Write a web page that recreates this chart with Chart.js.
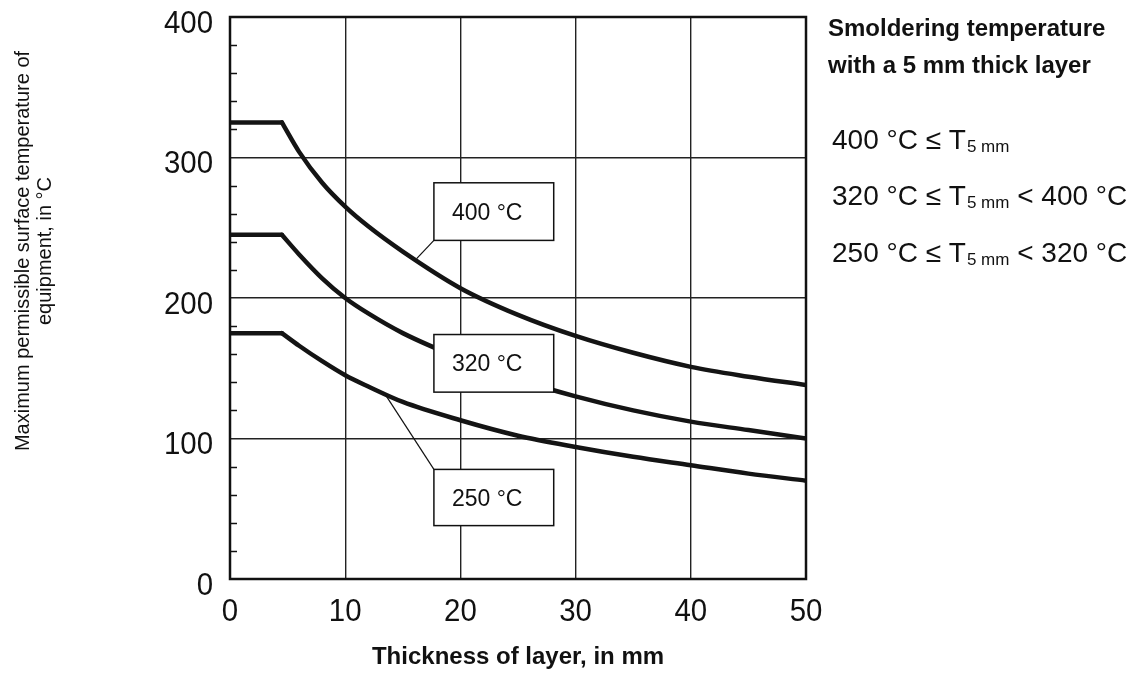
<!DOCTYPE html>
<html>
<head>
<meta charset="utf-8">
<script src="https://cdn.jsdelivr.net/npm/chart.js@4/dist/chart.umd.min.js"></script>
<style>
  body { margin: 0; background: #fff; }
  #wrap { width: 1140px; height: 679px; position: relative; }
</style>
</head>
<body>
<div id="wrap"><canvas id="myChart"></canvas></div>
<script>
// thickness of layer (mm) and max permissible surface temperature (°C)
// flat part from 0 mm to the first thickness value, then the curve falls
const thickness = [4.5, 6, 8, 10, 12, 15, 20, 25, 30, 35, 40, 45, 50];
const t400 = [325, 304, 282, 265, 251, 233, 207, 188, 173, 161, 151, 144, 138];
const t320 = [245, 231, 214, 200, 189, 175, 157, 142, 130, 120, 112, 106, 100];
const t250 = [175, 166, 155, 145, 137, 126, 113, 102, 94, 87, 81, 75, 70];
const curveLabels = ["400 °C", "320 °C", "250 °C"];

const xTicks = [0, 10, 20, 30, 40, 50];
const yTicks = [0, 100, 200, 300, 400];

const legendTitle = ["Smoldering temperature", "with a 5 mm thick layer"];
const legendRows = [
  ["400 °C ≤ T", "5 mm", ""],
  ["320 °C ≤ T", "5 mm", " < 400 °C"],
  ["250 °C ≤ T", "5 mm", " < 320 °C"]
];

// callout boxes in data units: [x0, x1, yTop, yBottom, leaderX, leaderY, corner]
const callouts = [
  [17.7, 28.1, 282, 241, 16.2, 228, "bottom"],
  [17.7, 28.1, 174, 133, null, null, null],
  [17.7, 28.1, 78, 38, 13.5, 131, "top"]
];

const FONT = "'Liberation Sans', Arial, Helvetica, sans-serif";

function squeezeText(ctx, s, x, y, sx) {
  ctx.save();
  ctx.translate(x, y);
  ctx.scale(sx, 1);
  ctx.fillText(s, 0, 0);
  ctx.restore();
}

const decor = {
  id: "decor",
  afterDraw(chart) {
    const ctx = chart.ctx;
    const a = chart.chartArea;
    const xs = chart.scales.x, ys = chart.scales.y;
    ctx.save();

    // minor ticks on left axis
    ctx.strokeStyle = "#111";
    ctx.lineWidth = 1.5;
    ys.ticks.forEach(t => {
      if (t.value % 100 !== 0) {
        const py = Math.round(ys.getPixelForValue(t.value)) + 0.5;
        ctx.beginPath();
        ctx.moveTo(a.left, py);
        ctx.lineTo(a.left + 7, py);
        ctx.stroke();
      }
    });

    // callout boxes
    callouts.forEach((c, i) => {
      const x0 = xs.getPixelForValue(c[0]), x1 = xs.getPixelForValue(c[1]);
      const y0 = ys.getPixelForValue(c[2]), y1 = ys.getPixelForValue(c[3]);
      if (c[4] !== null) {
        const lx = xs.getPixelForValue(c[4]), ly = ys.getPixelForValue(c[5]);
        ctx.beginPath();
        ctx.lineWidth = 1.2;
        ctx.moveTo(x0, c[6] === "bottom" ? y1 : y0);
        ctx.lineTo(lx, ly);
        ctx.stroke();
      }
      ctx.fillStyle = "#fff";
      ctx.fillRect(x0, y0, x1 - x0, y1 - y0);
      ctx.lineWidth = 1.5;
      ctx.strokeRect(x0, y0, x1 - x0, y1 - y0);
      ctx.fillStyle = "#111";
      ctx.font = "23px " + FONT;
      ctx.textAlign = "left";
      ctx.textBaseline = "alphabetic";
      ctx.fillText(curveLabels[i], x0 + 18, (y0 + y1) / 2 + 8);
    });

    // frame
    ctx.lineWidth = 2.5;
    ctx.strokeStyle = "#111";
    ctx.strokeRect(a.left, a.top, a.right - a.left, a.bottom - a.top);

    // tick labels
    ctx.fillStyle = "#111";
    ctx.font = "32px " + FONT;
    ctx.textAlign = "right";
    yTicks.forEach(v => {
      squeezeText(ctx, String(v), a.left - 17, ys.getPixelForValue(v) + 15.5, 0.92);
    });
    ctx.textAlign = "center";
    xTicks.forEach(v => {
      squeezeText(ctx, String(v), xs.getPixelForValue(v), a.bottom + 42, 0.92);
    });

    // axis titles
    ctx.font = "bold 24px " + FONT;
    ctx.textAlign = "center";
    ctx.fillText("Thickness of layer, in mm", (a.left + a.right) / 2, 664);

    ctx.font = "20px " + FONT;
    ctx.save();
    ctx.translate(29, 251);
    ctx.rotate(-Math.PI / 2);
    ctx.fillText("Maximum permissible surface temperature of", 0, 0);
    ctx.restore();
    ctx.save();
    ctx.translate(51, 251);
    ctx.rotate(-Math.PI / 2);
    ctx.fillText("equipment, in °C", 0, 0);
    ctx.restore();

    // legend block on the right
    ctx.textAlign = "left";
    ctx.font = "bold 24px " + FONT;
    ctx.fillText(legendTitle[0], 828, 36);
    ctx.fillText(legendTitle[1], 828, 73);
    const base = [149, 205, 261.5];
    legendRows.forEach((r, i) => {
      let x = 832;
      ctx.font = "28px " + FONT;
      ctx.fillText(r[0], x, base[i]);
      x += ctx.measureText(r[0]).width + 1;
      ctx.font = "17px " + FONT;
      ctx.fillText(r[1], x, base[i] + 3);
      x += ctx.measureText(r[1]).width;
      ctx.font = "28px " + FONT;
      ctx.fillText(r[2], x, base[i]);
    });

    ctx.restore();
  }
};

// each curve: flat segment up to the first thickness, then the falling part
function curveSets(label, ys) {
  const common = {
    borderColor: "#141414",
    borderWidth: 4.5,
    borderCapStyle: "round",
    borderJoinStyle: "round",
    pointRadius: 0,
    fill: false
  };
  return [
    Object.assign({}, common, {
      label: label + " flat",
      data: [{ x: 0, y: ys[0] }, { x: thickness[0], y: ys[0] }]
    }),
    Object.assign({}, common, {
      label: label,
      data: thickness.map((x, i) => ({ x: x, y: ys[i] })),
      cubicInterpolationMode: "monotone"
    })
  ];
}

const ctx = document.getElementById("myChart").getContext("2d");
const myChart = new Chart(ctx, {
  type: "line",
  data: {
    datasets: [
      ...curveSets(curveLabels[0], t400),
      ...curveSets(curveLabels[1], t320),
      ...curveSets(curveLabels[2], t250)
    ]
  },
  plugins: [decor],
  options: {
    responsive: true,
    maintainAspectRatio: false,
    animation: false,
    layout: { padding: { left: 230, right: 334, top: 17, bottom: 100 } },
    plugins: { legend: { display: false }, tooltip: { enabled: false } },
    scales: {
      x: {
        type: "linear",
        min: 0,
        max: 50,
        afterBuildTicks: s => { s.ticks = xTicks.map(v => ({ value: v })); },
        ticks: { display: false },
        grid: { color: "#222", lineWidth: 1.4, drawTicks: false },
        border: { display: false }
      },
      y: {
        type: "linear",
        min: 0,
        max: 400,
        ticks: { display: false, stepSize: 20 },
        grid: {
          color: c => (c.tick.value % 100 === 0 ? "#222" : "rgba(0,0,0,0)"),
          lineWidth: 1.4,
          drawTicks: false
        },
        border: { display: false }
      }
    }
  }
});
</script>
</body>
</html>
